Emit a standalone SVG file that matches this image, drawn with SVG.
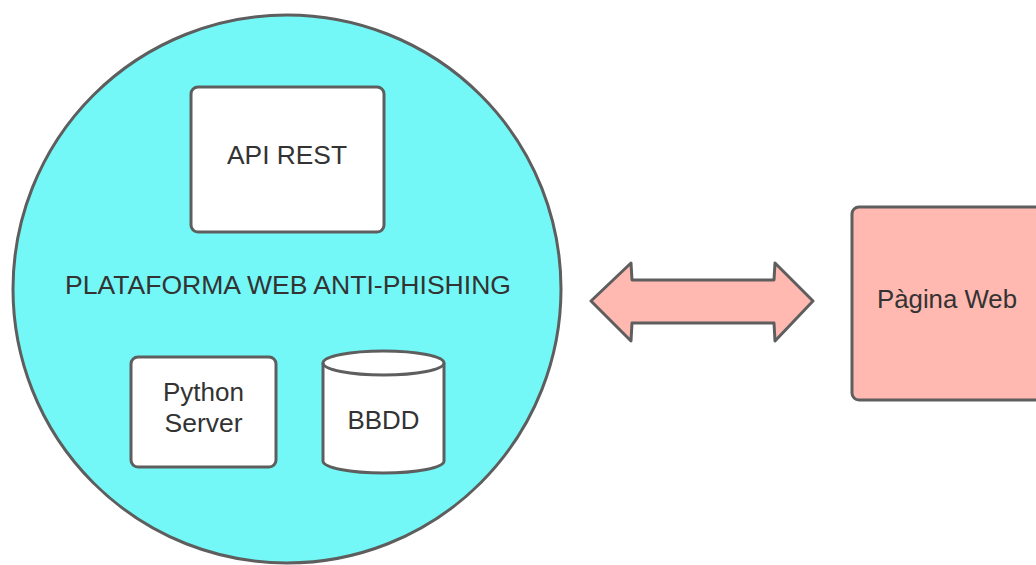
<svg xmlns="http://www.w3.org/2000/svg" width="1036" height="565" viewBox="0 0 1036 565">
  <style>
    .shape { stroke: #5e5e5e; stroke-width: 3; stroke-linejoin: round; }
    .box { fill: #ffffff; }
    .lbl { font-family: "Liberation Sans", Arial, sans-serif; font-size: 25px; fill: #333333; text-anchor: middle; }
  </style>
  <rect width="1036" height="565" fill="#ffffff"/>
  <g id="platform">
    <circle class="shape" cx="287" cy="289" r="274" fill="#73f8f7"/>
    <text class="lbl" x="288" y="294" textLength="446" lengthAdjust="spacingAndGlyphs">PLATAFORMA WEB ANTI-PHISHING</text>
  </g>
  <g id="api-rest">
    <rect class="shape box" x="191" y="87" width="193" height="145" rx="7"/>
    <text class="lbl" x="287" y="164" textLength="120" lengthAdjust="spacingAndGlyphs">API REST</text>
  </g>
  <g id="python-server">
    <rect class="shape box" x="131" y="357" width="145" height="110" rx="7"/>
    <text class="lbl" x="203.5" y="401" textLength="81" lengthAdjust="spacingAndGlyphs">Python</text>
    <text class="lbl" x="203.5" y="432" textLength="78" lengthAdjust="spacingAndGlyphs">Server</text>
  </g>
  <g id="bbdd">
    <path class="shape box" d="M323,363 L323,461 A60.5,12 0 0 0 444,461 L444,363 A60.5,12 0 0 0 323,363 Z"/>
    <path class="shape" fill="none" d="M323,363 A60.5,12 0 0 0 444,363"/>
    <text class="lbl" x="383.5" y="429" textLength="72" lengthAdjust="spacingAndGlyphs">BBDD</text>
  </g>
  <g id="connectors">
    <path class="shape" fill="#ffb9b1" d="M591,301 L631,263 L632,280 L774,280 L775,263 L813,301 L775,341 L774,323 L632,323 L631,341 Z"/>
  </g>
  <g id="pagina-web">
    <rect class="shape" x="852" y="207" width="193" height="193" rx="7" fill="#ffb9b1"/>
    <text class="lbl" x="947" y="308" textLength="140" lengthAdjust="spacingAndGlyphs">Pàgina Web</text>
  </g>
</svg>
